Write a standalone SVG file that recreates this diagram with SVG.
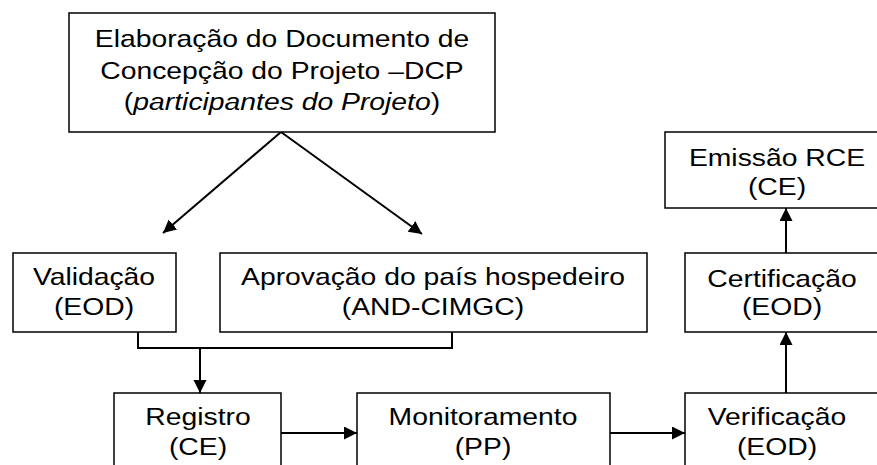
<svg xmlns="http://www.w3.org/2000/svg" width="877" height="465" viewBox="0 0 877 465">
<defs>
<style>
.box{fill:#fff;stroke:#000;stroke-width:1.5}
.t{font-family:"Liberation Sans",Arial,sans-serif;font-size:24px;fill:#000;text-anchor:middle}
.c{fill:none;stroke:#000;stroke-width:2}
</style>
<marker id="ah" markerUnits="userSpaceOnUse" markerWidth="14" markerHeight="14" refX="13" refY="6.5" orient="auto">
<path d="M0,0 L13,6.5 L0,13 z" fill="#000"/>
</marker>
</defs>
<rect width="877" height="465" fill="#fff"/>
<g id="connectors">
<path class="c" d="M281,132 L163,233" marker-end="url(#ah)"/>
<path class="c" d="M281,132 L422,234" marker-end="url(#ah)"/>
<path class="c" d="M138,332 V348 H452 V332"/>
<path class="c" d="M200,348 V393" marker-end="url(#ah)"/>
<path class="c" d="M281,433 H357" marker-end="url(#ah)"/>
<path class="c" d="M610,433 H685" marker-end="url(#ah)"/>
<path class="c" d="M786,393 V332" marker-end="url(#ah)"/>
<path class="c" d="M786,253 V208" marker-end="url(#ah)"/>
</g>
<g id="dcp">
<rect class="box" x="69" y="13" width="426" height="119"/>
<text class="t" transform="translate(282,47) scale(1.18,1)">Elaboração do Documento de</text>
<text class="t" transform="translate(282,79) scale(1.18,1)">Concepção do Projeto –DCP</text>
<text class="t" transform="translate(282,110) scale(1.18,1)">(<tspan font-style="italic">participantes do Projeto</tspan>)</text>
</g>
<g id="validacao">
<rect class="box" x="13" y="253" width="163" height="79"/>
<text class="t" transform="translate(94,285) scale(1.18,1)">Validação</text>
<text class="t" transform="translate(94,315) scale(1.18,1)">(EOD)</text>
</g>
<g id="aprovacao">
<rect class="box" x="220" y="253" width="427" height="79"/>
<text class="t" transform="translate(433,285) scale(1.18,1)">Aprovação do país hospedeiro</text>
<text class="t" transform="translate(433,315) scale(1.18,1)">(AND-CIMGC)</text>
</g>
<g id="registro">
<rect class="box" x="114" y="393" width="167" height="90"/>
<text class="t" transform="translate(198,425) scale(1.18,1)">Registro</text>
<text class="t" transform="translate(198,455) scale(1.18,1)">(CE)</text>
</g>
<g id="monitoramento">
<rect class="box" x="357" y="393" width="253" height="90"/>
<text class="t" transform="translate(483,425) scale(1.18,1)">Monitoramento</text>
<text class="t" transform="translate(483,455) scale(1.18,1)">(PP)</text>
</g>
<g id="verificacao">
<rect class="box" x="685" y="393" width="200" height="90"/>
<text class="t" transform="translate(777,425) scale(1.18,1)">Verificação</text>
<text class="t" transform="translate(777,455) scale(1.18,1)">(EOD)</text>
</g>
<g id="certificacao">
<rect class="box" x="685" y="253" width="200" height="79"/>
<text class="t" transform="translate(782,287) scale(1.18,1)">Certificação</text>
<text class="t" transform="translate(782,315) scale(1.18,1)">(EOD)</text>
</g>
<g id="emissao">
<rect class="box" x="665" y="132" width="225" height="76"/>
<text class="t" transform="translate(777,166) scale(1.18,1)">Emissão RCE</text>
<text class="t" transform="translate(777,195) scale(1.18,1)">(CE)</text>
</g>
</svg>
